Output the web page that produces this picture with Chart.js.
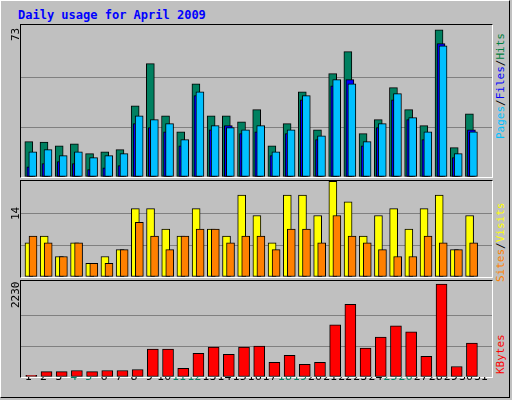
<!DOCTYPE html>
<html><head><meta charset="utf-8">
<script src="https://cdn.jsdelivr.net/npm/chart.js@4"></script>
<style>
html,body{margin:0;padding:0;}
body{width:512px;height:400px;background:#c0c0c0;position:relative;overflow:hidden;font-family:"DejaVu Sans Mono",monospace;}
#frame{position:absolute;left:0;top:0;width:510px;height:398px;border-top:1px solid #fff;border-left:1px solid #fff;border-right:1px solid #000;border-bottom:1px solid #000;box-sizing:border-box;}
.t{position:absolute;white-space:nowrap;font-size:11px;}
.rot{transform-origin:0 0;transform:rotate(-90deg);}
.panel{position:absolute;border-top:1px solid #000;border-left:1px solid #000;border-right:1px solid #fff;border-bottom:1px solid #fff;}
canvas{display:block;}
</style></head><body>
<div id="frame"></div>
<div class="t" style="left:18px;top:8px;color:#0000ff;font-weight:bold;font-size:12px;">Daily usage for April 2009</div>
<div class="panel" style="left:20px;top:24px;width:471px;height:152px;"><canvas id="c1"></canvas></div>
<div class="panel" style="left:20px;top:180px;width:471px;height:96px;"><canvas id="c2"></canvas></div>
<div class="panel" style="left:20px;top:280px;width:471px;height:96px;"><canvas id="c3"></canvas></div>
<div style="position:absolute;left:21px;top:377px;width:471px;height:22px;"><canvas id="c4"></canvas></div>
<div class="t rot" style="left:9px;top:41px;">73</div>
<div class="t rot" style="left:9px;top:220px;">14</div>
<div class="t rot" style="left:9px;top:308px;">2230</div>
<div class="t rot" style="left:494px;top:139px;"><span style="color:#00c0ff">Pages</span>/<span style="color:#0000ff">Files</span>/<span style="color:#008040">Hits</span></div>
<div class="t rot" style="left:494px;top:282px;"><span style="color:#ff8000">Sites</span>/<span style="color:#ffff00">Visits</span></div>
<div class="t rot" style="left:494px;top:374px;color:#ff0000">KBytes</div>
<script>
const days=[1,2,3,4,5,6,7,8,9,10,11,12,13,14,15,16,17,18,19,20,21,22,23,24,25,26,27,28,29,30,31];
const weekend=[4,5,11,12,18,19,25,26];
const hits=[17.2,17,15.2,16.2,11.4,12.3,13.3,34.7,55.2,29.8,22,45.4,29.8,29.8,26.9,32.8,15.2,26,41.5,23,50.3,61,21.1,27.9,43.5,32.8,25,71.7,14.3,30.8,0];
const files=[5,6.5,7.5,6.5,3.6,4.5,5.5,26,24,22,15.2,39.6,23,25,21.1,22,10.4,21.1,37.6,18.2,44.4,47.4,15.2,24,37.6,27.9,18.2,64.9,9.4,23,0];
const pages=[12.3,13.3,10.4,12.3,9.4,10.4,11.4,29.8,27.9,26,18.2,41.5,25,24,23,25,12.3,23,39.6,20.1,47.4,45.4,17.2,26,40.6,28.9,22,63.9,11.4,22,0];
const visits=[5,6,3,5,2,3,4,10,10,7,6,10,7,6,12,9,5,12,12,9,14,11,6,9,10,7,10,12,4,9,0];
const sites=[6,5,3,5,2,2,4,8,6,4,6,7,7,5,6,6,4,7,7,5,9,6,5,4,3,3,6,5,4,5,0];
const kbytes=[40,130,130,155,130,155,155,180,667,667,205,570,716,545,716,741,350,521,301,350,1253,1742,692,960,1229,1083,497,2230,252,814,0];
const maxHits=73, maxVisits=14, maxKB=2230;

function pts(arr,off){return arr.map((v,i)=>({x:days[i]+off,y:v}));}
function ds(arr,off,color,w){return {data:pts(arr,off),backgroundColor:color,borderColor:'#000',borderWidth:1,borderSkipped:false,barThickness:w,grouped:false};}
function opts(topVal,gridMax,showX){
  return {responsive:false,animation:false,events:[],layout:{padding:0},
    plugins:{legend:{display:false},tooltip:{enabled:false}},
    scales:{
      x:{type:'linear',min:0.5,max:31.5,display:false,offset:false},
      y:{min:0,max:topVal,afterFit:s=>{s.width=0;},
        afterBuildTicks:s=>{s.ticks=[0,gridMax/3,gridMax*2/3].map(v=>({value:v}));},
        ticks:{display:false},border:{display:false},
        grid:{color:'#808080',lineWidth:1,drawTicks:false}}
    }};
}
function mk(id,w,h,datasets,o){const c=document.getElementById(id);c.width=w;c.height=h;c.style.width=w+'px';c.style.height=h+'px';return new Chart(c,{type:'bar',data:{datasets},options:o});}
const per=470/31;
mk('c1',471,152,[ds(pages,4.2/per,'#00c0ff',8),ds(files,2.2/per,'#0000ff',8),ds(hits,0.2/per,'#008060',8)],opts(74,maxHits));
mk('c2',471,96,[ds(sites,4.4/per,'#ff8000',8),ds(visits,0.4/per,'#ffff00',8)],opts(14.05,maxVisits));
mk('c3',471,96,[ds(kbytes,2.7/per,'#ff0000',11)],opts(maxKB*95/92,maxKB));
// day labels row via its own category scale
const c4=document.getElementById('c4');c4.width=471;c4.height=22;
new Chart(c4,{type:'bar',data:{labels:days.map(String),datasets:[{data:days.map(()=>0)}]},
 options:{responsive:false,animation:false,events:[],layout:{padding:0},plugins:{legend:{display:false},tooltip:{enabled:false}},
  scales:{y:{display:false},x:{position:'top',grid:{display:false,drawTicks:false},border:{display:false},
   ticks:{autoSkip:false,maxRotation:0,padding:4,font:{family:'DejaVu Sans',size:11},color:c=>weekend.includes(days[c.index])?'#008060':'#000'}}}}});
</script>
</body></html>
